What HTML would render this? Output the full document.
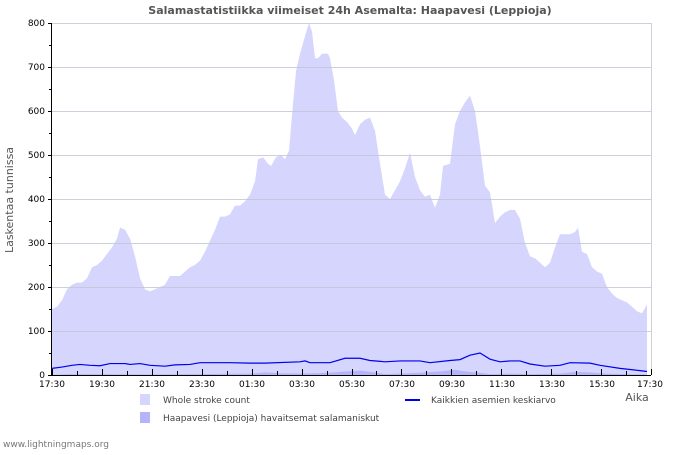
<!DOCTYPE html>
<html><head><meta charset="utf-8"><style>
body{margin:0;background:#fff;}
svg text{font-family:"DejaVu Sans","Liberation Sans",sans-serif;}
</style></head><body>
<svg width="700" height="450" viewBox="0 0 700 450" xmlns="http://www.w3.org/2000/svg">
<rect width="700" height="450" fill="#fff"/>
<text x="350" y="14" text-anchor="middle" font-size="11" font-weight="bold" fill="#555">Salamastatistiikka viimeiset 24h Asemalta: Haapavesi (Leppioja)</text>
<polygon id="area" fill="#d5d5fd" points=""/>
<polygon id="area2" fill="#b4b4fa" points=""/>
<g stroke="#c4c4d4" stroke-width="1" opacity="0.8">
<line x1="52" y1="23.5" x2="651" y2="23.5"/>
<line x1="52" y1="67.5" x2="651" y2="67.5"/>
<line x1="52" y1="111.5" x2="651" y2="111.5"/>
<line x1="52" y1="155.5" x2="651" y2="155.5"/>
<line x1="52" y1="199.5" x2="651" y2="199.5"/>
<line x1="52" y1="243.5" x2="651" y2="243.5"/>
<line x1="52" y1="287.5" x2="651" y2="287.5"/>
<line x1="52" y1="331.5" x2="651" y2="331.5"/>
<line x1="651.5" y1="23" x2="651.5" y2="375"/>
</g>
<polyline id="line" fill="none" stroke="#0000ee" stroke-width="1.2" points=""/>
<g stroke="#000" stroke-width="1">
<line x1="51.5" y1="23" x2="51.5" y2="375"/>
<line x1="51" y1="375.5" x2="651" y2="375.5"/>
</g>
<g id="ticks" stroke="#000" stroke-width="1"></g>
<g font-size="9" fill="#000" text-anchor="end">
<text x="45" y="26">800</text><text x="45" y="70">700</text><text x="45" y="114">600</text><text x="45" y="158">500</text>
<text x="45" y="202">400</text><text x="45" y="246">300</text><text x="45" y="290">200</text><text x="45" y="334">100</text><text x="45" y="378">0</text>
</g>
<g font-size="9" fill="#000" text-anchor="middle">
<text x="52" y="387">17:30</text><text x="102" y="387">19:30</text><text x="152" y="387">21:30</text><text x="202" y="387">23:30</text>
<text x="252" y="387">01:30</text><text x="302" y="387">03:30</text><text x="352" y="387">05:30</text><text x="402" y="387">07:30</text>
<text x="452" y="387">09:30</text><text x="502" y="387">11:30</text><text x="552" y="387">13:30</text><text x="602" y="387">15:30</text><text x="650" y="387">17:30</text>
</g>
<text x="637" y="401" text-anchor="middle" font-size="11" fill="#555">Aika</text>
<text transform="translate(13,200) rotate(-90)" text-anchor="middle" font-size="11" fill="#555">Laskentaa tunnissa</text>
<rect x="140" y="394" width="10" height="11" fill="#d5d5fd"/>
<text x="163" y="403" font-size="9" fill="#444">Whole stroke count</text>
<rect x="140" y="412" width="10" height="11" fill="#b4b4fa"/>
<text x="163" y="421" font-size="9" fill="#444">Haapavesi (Leppioja) havaitsemat salamaniskut</text>
<line x1="405" y1="400" x2="420" y2="400" stroke="#0000ee" stroke-width="2"/>
<text x="431" y="403" font-size="9" fill="#444">Kaikkien asemien keskiarvo</text>
<text x="3" y="447" font-size="9" fill="#777">www.lightningmaps.org</text>
</svg>
<script>
var Y=v=>375-v*0.44;
var a=[[52,150],[57,155],[62,170],[67,195],[72,205],[77,210],[82,210],[87,220],[92,245],[97,250],[102,260],[107,275],[112,290],[117,310],[120,335],[125,330],[130,310],[135,270],[140,220],[145,195],[150,190],[155,195],[160,200],[165,205],[170,225],[175,225],[180,225],[185,235],[190,245],[195,250],[200,260],[205,280],[210,305],[215,330],[220,360],[225,360],[230,365],[235,385],[240,385],[245,395],[250,410],[255,440],[258,490],[263,495],[268,480],[271,475],[276,495],[281,500],[285,490],[289,510],[292,590],[296,690],[300,730],[305,770],[309,800],[312,780],[315,720],[318,720],[322,730],[328,730],[330,720],[334,670],[338,600],[342,585],[347,575],[352,560],[355,545],[360,570],[365,580],[370,585],[375,555],[380,480],[385,410],[390,400],[395,420],[400,440],[405,470],[410,505],[415,450],[420,420],[425,405],[430,410],[435,380],[440,410],[443,475],[450,480],[455,570],[460,600],[465,620],[470,635],[475,600],[480,520],[485,430],[490,415],[495,345],[500,360],[505,370],[510,375],[515,375],[520,355],[525,300],[530,270],[535,265],[540,255],[545,245],[550,255],[555,290],[560,320],[565,320],[570,320],[575,325],[578,335],[582,280],[587,275],[592,245],[597,235],[602,230],[607,200],[612,185],[617,175],[622,170],[627,165],[632,155],[637,145],[642,140],[647,160]];
var s=a.map(p=>p[0]+","+Y(p[1])).join(" ");
document.getElementById("area").setAttribute("points","52,375 "+s+" 647,375");
var b=[[52,0],[70,2],[100,2],[150,1],[250,3],[265,6],[280,4],[300,3],[330,5],[345,8],[360,10],[375,6],[385,2],[400,3],[420,5],[440,8],[455,12],[465,8],[480,5],[490,2],[510,3],[530,2],[560,3],[575,7],[590,6],[605,3],[647,1]];
document.getElementById("area2").setAttribute("points","52,375 "+b.map(p=>p[0]+","+Y(p[1])).join(" ")+" 647,375");
var l=[[52,15],[62,18],[72,22],[80,24],[90,22],[100,21],[110,26],[125,26],[130,24],[140,26],[150,22],[165,20],[175,23],[190,24],[200,28],[230,28],[250,27],[265,27],[300,30],[305,32],[310,28],[330,28],[345,38],[360,38],[370,33],[385,30],[400,32],[420,32],[430,28],[450,33],[460,35],[470,45],[480,50],[490,36],[500,30],[510,32],[520,32],[530,25],[545,20],[560,22],[570,28],[590,27],[600,22],[620,15],[640,10],[647,8]];
document.getElementById("line").setAttribute("points",l.map(p=>p[0]+","+Y(p[1])).join(" "));
var t="";
for(var i=0;i<=24;i++){var x=52+i*24.96;var h=(i%2==0)?6:4;t+='<line x1="'+(Math.round(x)+0.5)+'" y1="'+(375-h)+'" x2="'+(Math.round(x)+0.5)+'" y2="375"/>';}
for(var v=50;v<800;v+=100){var y=Math.round(Y(v))+0.5;t+='<line x1="49" y1="'+y+'" x2="52" y2="'+y+'"/>';}
for(var v=0;v<=800;v+=100){var y=Math.round(Y(v))+0.5;t+='<line x1="48" y1="'+y+'" x2="52" y2="'+y+'"/>';}
document.getElementById("ticks").innerHTML=t;
</script>
</body></html>
